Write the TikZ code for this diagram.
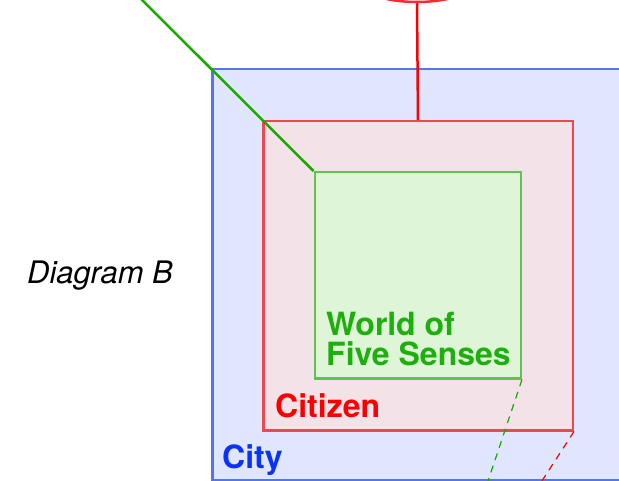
\documentclass[tikz,border=0pt]{standalone}
\usepackage{fontspec}
\setmainfont{TeX Gyre Heros}
\usetikzlibrary{shapes.geometric}
\definecolor{bluestroke}{RGB}{85,115,245}
\definecolor{bluefill}{RGB}{223,230,253}
\definecolor{bluetext}{RGB}{10,50,250}
\definecolor{redstroke}{RGB}{240,70,80}
\definecolor{redfill}{RGB}{243,226,232}
\definecolor{redtext}{RGB}{250,0,0}
\definecolor{greenstroke}{RGB}{95,195,80}
\definecolor{greenfill}{RGB}{222,245,216}
\definecolor{greentext}{RGB}{30,175,15}
\definecolor{greenline}{RGB}{25,170,0}
\tikzset{
  box/.style={line width=2.5pt, inner sep=0pt, anchor=north west},
  lbl/.style={font=\fontsize{32}{31}\selectfont\bfseries, anchor=base west, inner sep=0pt, align=left},
  dashconn/.style={dash pattern=on 7pt off 6pt, line width=1.2pt}
}
\begin{document}
\begin{tikzpicture}[x=1pt,y=-1pt]
\useasboundingbox (0,0) rectangle (619,481);
\clip (0,0) rectangle (619,481);
% boxes
\node[box, draw=bluestroke, fill=bluefill, minimum width=500pt, minimum height=411pt] (city) at (211,68) {};
\node[box, draw=redstroke, fill=redfill, minimum width=309.5pt, minimum height=309pt] (citizen) at (262,120) {};
\node[box, draw=greenstroke, fill=greenfill, minimum width=206pt, minimum height=206pt] (world) at (313.5,171) {};
% labels
\node[lbl, text=greentext] (worldlbl) at (326,366) {World of\\Five Senses};
\node[lbl, text=redtext] (citizenlbl) at (275,417) {Citizen};
\node[lbl, text=bluetext] (citylbl) at (222,468) {City};
\node[font=\fontsize{31}{30}\selectfont\itshape, anchor=base west, inner sep=0pt] (diag) at (27,284) {Diagram B};
% connectors
\node[ellipse, draw=redstroke!60!red, line width=2.5pt, minimum width=120pt, minimum height=44pt, inner sep=0pt] (top) at (417,-20) {};
\draw[red, line width=2.5pt] (citizen.north) -- (top.south);
\coordinate (gfar) at (100,-42);
\draw[greenline, line width=2.5pt] (world.north west) -- (gfar);
\coordinate (gdash) at (485,490);
\coordinate (rdash) at (536,490);
\draw[greenline, dashconn] (world.south east) -- (gdash);
\draw[red, dashconn] (citizen.south east) -- (rdash);
\end{tikzpicture}
\end{document}
